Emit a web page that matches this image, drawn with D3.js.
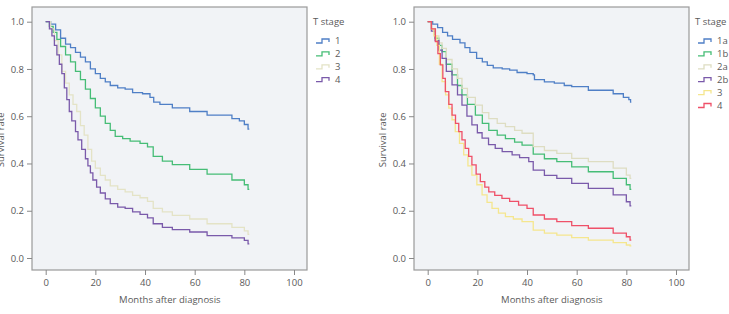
<!DOCTYPE html>
<html>
<head>
<meta charset="utf-8">
<script src="https://cdn.jsdelivr.net/npm/d3@7"></script>
<style>
  body { margin: 0; background: #fff; }
  text { font-family: "Open Sans", "Noto Sans", sans-serif; fill: #5a5a5a; }
</style>
</head>
<body>
<svg id="chart" width="729" height="314"></svg>
<script>
// x ticks and y ticks shared by both panels
const xTicks = [0, 20, 40, 60, 80, 100];
const yTicks = [0, 0.2, 0.4, 0.6, 0.8, 1.0];

// Panel A: T stage 1-4, [months, survival]
const stageA = ["1", "2", "3", "4"];
const a1 = [[0,1],[2,0.99],[4,0.965],[6,0.93],[8,0.905],[10,0.89],[12,0.87],[14,0.85],[16,0.83],[18,0.8],[20,0.78],[22,0.76],[24,0.745],[26,0.73],[29,0.72],[32,0.715],[35,0.70],[39,0.695],[42,0.68],[43.5,0.66],[46,0.65],[51,0.635],[58,0.62],[65,0.605],[75,0.59],[78,0.58],[80,0.565],[81.5,0.545],[82,0.545]];
const a2 = [[0,1],[1.5,0.98],[3,0.955],[4.5,0.925],[6,0.895],[8,0.86],[10,0.83],[12,0.79],[14,0.755],[16,0.715],[18,0.675],[20,0.635],[22,0.6],[24,0.57],[26,0.54],[28,0.515],[31,0.505],[34,0.495],[38,0.485],[41,0.47],[43.3,0.43],[47,0.41],[51,0.395],[58,0.375],[65,0.355],[75,0.33],[80,0.31],[81.5,0.29],[82,0.29]];
const a3 = [[0,1],[2,0.97],[3.5,0.92],[5,0.86],[6.5,0.79],[8,0.74],[9.5,0.69],[11,0.65],[12.5,0.62],[14,0.56],[15.5,0.52],[17,0.46],[18.5,0.41],[20,0.38],[22,0.35],[24,0.33],[26,0.305],[29,0.29],[32,0.28],[35,0.265],[38,0.255],[41,0.24],[43.3,0.21],[47,0.195],[51,0.18],[58,0.165],[65,0.145],[75,0.13],[80,0.115],[81.5,0.10],[82,0.10]];
const a4 = [[0,1],[1.5,0.97],[2.5,0.94],[3.5,0.9],[4.5,0.86],[5.5,0.82],[6.5,0.78],[7.5,0.72],[8.5,0.67],[9.5,0.62],[10.5,0.58],[12,0.535],[13,0.5],[14.5,0.46],[16,0.42],[17,0.39],[18,0.36],[19,0.33],[20.5,0.30],[22,0.275],[24,0.25],[26,0.23],[29,0.215],[32,0.21],[35,0.195],[38,0.185],[41,0.17],[43.3,0.145],[47,0.13],[51,0.12],[58,0.11],[65,0.095],[75,0.085],[80,0.075],[81.5,0.06],[82,0.06]];
const colorsA = ["#4f7fc6", "#46bd76", "#e4e3c6", "#7a5aaa"];

// Panel B: T stage 1a-4
const stageB = ["1a", "1b", "2a", "2b", "3", "4"];
const b1a = [[0,1],[2,0.99],[4,0.975],[6,0.955],[8,0.94],[10,0.925],[13,0.91],[15,0.89],[17,0.87],[19.7,0.845],[22,0.83],[24,0.815],[26.4,0.805],[30,0.8],[33,0.795],[36,0.785],[40,0.78],[42.5,0.775],[43,0.755],[47,0.745],[51,0.74],[55,0.73],[58,0.725],[64.7,0.71],[74.7,0.695],[78.8,0.68],[81,0.67],[81.7,0.66],[82,0.66]];
const b1b = [[0,1],[1.5,0.97],[3,0.93],[4.5,0.9],[5.8,0.873],[7.5,0.82],[9.8,0.775],[12,0.73],[13.8,0.69],[16,0.65],[19.2,0.605],[22,0.57],[24.6,0.54],[28,0.52],[31.3,0.505],[35,0.49],[38,0.478],[42.5,0.44],[47,0.42],[52,0.408],[58,0.386],[64.7,0.365],[74.7,0.337],[80,0.31],[81.5,0.29],[82,0.29]];
const b2a = [[0,1],[1.5,0.97],[3,0.94],[4.5,0.91],[5.8,0.887],[7.5,0.84],[9.8,0.80],[12,0.76],[13.8,0.718],[16,0.68],[19.2,0.647],[22,0.615],[24.6,0.59],[28,0.57],[31.3,0.556],[35,0.54],[38,0.528],[42.5,0.471],[47,0.455],[52,0.443],[58,0.422],[64.7,0.408],[74.7,0.38],[80,0.351],[81.5,0.337],[82,0.337]];
const b2b = [[0,1],[1.5,0.96],[3,0.92],[4.5,0.88],[5.8,0.845],[7.5,0.79],[9.8,0.733],[12,0.69],[13.8,0.647],[15.8,0.6],[17.8,0.563],[20,0.53],[21.9,0.507],[24.5,0.48],[27.2,0.464],[30,0.45],[34,0.436],[37,0.425],[40.7,0.408],[42.5,0.372],[47,0.35],[52,0.337],[58,0.316],[64.7,0.295],[74.7,0.267],[80,0.238],[81.5,0.221],[82,0.221]];
const b3 = [[0,1],[1.5,0.97],[2.5,0.94],[3.7,0.9],[4.7,0.82],[5.8,0.746],[7.2,0.69],[8.5,0.634],[9.8,0.585],[11.1,0.535],[12.8,0.485],[14.5,0.436],[16.2,0.39],[17.8,0.351],[19.8,0.31],[21.9,0.267],[23.9,0.235],[25.9,0.21],[28.5,0.19],[31.3,0.175],[34.5,0.165],[38,0.154],[42.5,0.118],[47,0.105],[52,0.097],[58,0.086],[64.7,0.076],[74.7,0.065],[80,0.055],[81.5,0.051],[82,0.051]];
const b4 = [[0,1],[1.5,0.97],[3.1,0.916],[4.1,0.865],[5.1,0.817],[6.1,0.76],[7.1,0.704],[8.5,0.65],[9.8,0.605],[11.2,0.57],[12.5,0.535],[13.8,0.5],[15.1,0.464],[16.5,0.43],[17.8,0.394],[19.5,0.355],[21.2,0.323],[23,0.3],[24.6,0.28],[27,0.265],[29.9,0.252],[33,0.24],[36.6,0.224],[40,0.21],[42.5,0.182],[47,0.165],[52,0.154],[58,0.137],[64.7,0.126],[74.7,0.105],[80,0.09],[81.5,0.076],[82,0.076]];
const colorsB = ["#4f7fc6", "#46bd76", "#deddc2", "#7a5aaa", "#f5e68e", "#ef5068"];

const svg = d3.select("#chart");
const boxW = 275, boxH = 263;

function drawPanel(left, series, names, colors, label) {
  const g = svg.append("g").attr("transform", "translate(" + left + ",7)");

  const x = d3.scaleLinear().domain([0, 100]).range([13.7, 262]);
  const y = d3.scaleLinear().domain([0, 1]).range([251, 14.7]);

  g.append("rect")
    .attr("width", boxW).attr("height", boxH)
    .attr("fill", "#f1f3f6")
    .attr("stroke", "#9a9a9a").attr("stroke-width", 1.2);

  const line = d3.line()
    .x(d => x(d[0]))
    .y(d => y(d[1]))
    .curve(d3.curveStepAfter);

  series.forEach(function(s, i) {
    g.append("path")
      .datum(s)
      .attr("fill", "none")
      .attr("stroke", colors[i])
      .attr("stroke-width", 1.3)
      .attr("d", line);
  });

  const yAxis = g.append("g")
    .call(d3.axisLeft(y).tickValues(yTicks).tickFormat(d3.format(".1f")).tickSize(5).tickPadding(3));
  yAxis.select(".domain").remove();
  yAxis.selectAll("line").attr("stroke", "#888");
  yAxis.selectAll("text").style("font-size", "9.5px").attr("fill", "#666");

  const xAxis = g.append("g")
    .attr("transform", "translate(0," + boxH + ")")
    .call(d3.axisBottom(x).tickValues(xTicks).tickSize(5).tickPadding(4));
  xAxis.select(".domain").remove();
  xAxis.selectAll("line").attr("stroke", "#888");
  xAxis.selectAll("text").style("font-size", "9.5px").attr("fill", "#666");

  g.append("text")
    .attr("x", (x(0) + x(100)) / 2)
    .attr("y", 296)
    .attr("text-anchor", "middle")
    .style("font-size", "9.5px")
    .text("Months after diagnosis");

  g.append("text")
    .attr("transform", "translate(-31," + ((y(0) + y(1)) / 2) + ") rotate(-90)")
    .attr("text-anchor", "middle")
    .attr("dy", "0.35em")
    .style("font-size", "9.5px")
    .text("Survival rate");

  // legend
  const lx = boxW + 6;
  g.append("text")
    .attr("x", lx).attr("y", 18)
    .style("font-size", "9.5px")
    .text("T stage");

  names.forEach(function(n, i) {
    const ly = 34 + i * 12.9;
    g.append("path")
      .attr("d", "M" + (lx + 3) + "," + (ly + 2) + "H" + (lx + 9) + "V" + (ly - 2) + "H" + (lx + 16) + "V" + (ly + 1))
      .attr("fill", "none")
      .attr("stroke", colors[i])
      .attr("stroke-width", 1.3);
    g.append("text")
      .attr("x", lx + 22).attr("y", ly)
      .attr("dy", "0.35em")
      .style("font-size", "9.5px")
      .text(n);
  });

  g.append("text")
    .attr("x", label === "A" ? -34 : -38)
    .attr("y", 315)
    .style("font-size", "11px")
    .style("font-weight", "bold")
    .attr("fill", "#333")
    .text(label);
}

drawPanel(32, [a1, a2, a3, a4], stageA, colorsA, "A");
drawPanel(414, [b1a, b1b, b2a, b2b, b3, b4], stageB, colorsB, "B");
</script>
</body>
</html>
